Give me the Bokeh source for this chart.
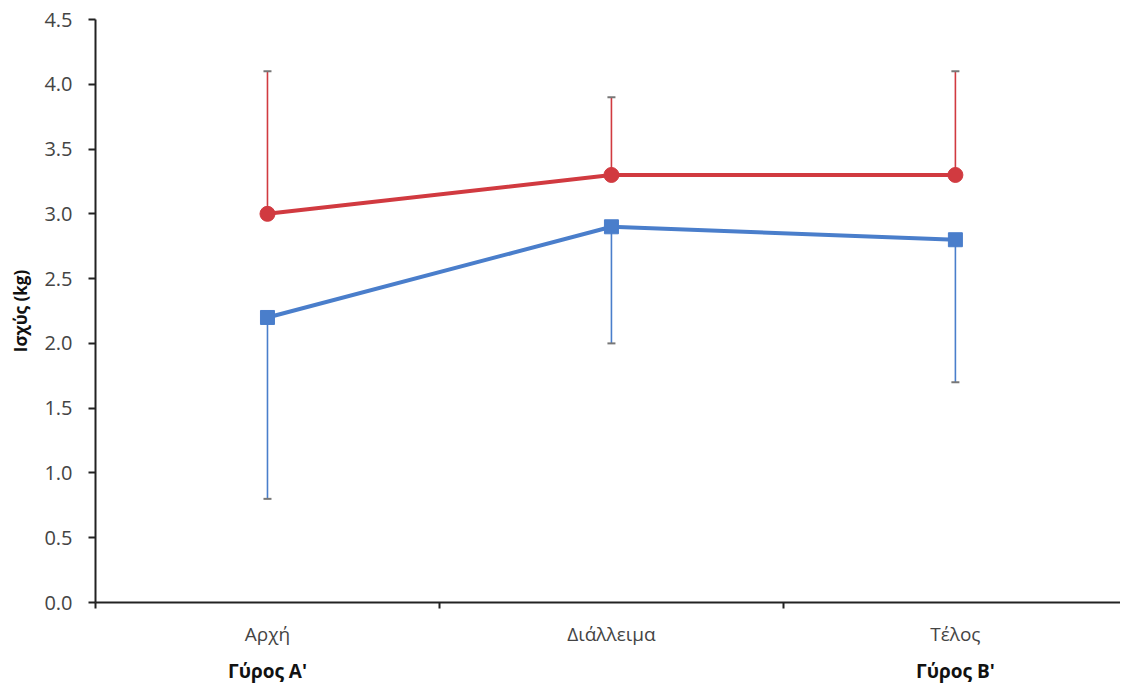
from bokeh.plotting import figure
from bokeh.models import (ColumnDataSource, Range1d, FixedTicker, LinearAxis,
                          Whisker, TeeHead)
from bokeh.embed import file_html
from bokeh.resources import INLINE

categories = ["Αρχή", "Διάλλειμα", "Τέλος"]
rounds = ["Γύρος Α'", "", "Γύρος Β'"]
red_mean = [3.0, 3.3, 3.3]
red_upper = [4.1, 3.9, 4.1]
blue_mean = [2.2, 2.9, 2.8]
blue_lower = [0.8, 2.0, 1.7]
y_ticks = [0, 0.5, 1.0, 1.5, 2.0, 2.5, 3.0, 3.5, 4.0, 4.5]

xs = [i + 0.5 for i in range(len(categories))]

FONT = "Open Sans"
RED = "#d13a40"
BLUE = "#4a7ecb"

p = figure(width=1120, height=686, output_backend="svg", toolbar_location=None,
           x_range=Range1d(0, 2.98), y_range=Range1d(0, 4.5),
           min_border_left=95, min_border_top=19, min_border_right=0,
           min_border_bottom=80, x_axis_location=None)
p.outline_line_color = None
p.xgrid.visible = False
p.ygrid.visible = False
p.background_fill_color = "white"
p.border_fill_color = "white"

red_src = ColumnDataSource(dict(x=xs, y=red_mean, up=red_upper))
blue_src = ColumnDataSource(dict(x=xs, y=blue_mean, lo=blue_lower))

p.add_layout(Whisker(source=red_src, base="x", lower="y", upper="up",
                     line_color=RED, line_width=1.6, lower_head=None,
                     upper_head=TeeHead(size=8, line_color="#777777", line_width=2)))
p.add_layout(Whisker(source=blue_src, base="x", lower="lo", upper="y",
                     line_color=BLUE, line_width=1.6, upper_head=None,
                     lower_head=TeeHead(size=8, line_color="#777777", line_width=2)))

p.line("x", "y", source=red_src, line_color=RED, line_width=4)
p.scatter("x", "y", source=red_src, marker="circle", size=15,
          fill_color=RED, line_color=RED)
p.line("x", "y", source=blue_src, line_color=BLUE, line_width=4)
p.scatter("x", "y", source=blue_src, marker="square", size=14,
          fill_color=BLUE, line_color=BLUE)

# y axis
ya = p.yaxis[0]
ya.ticker = FixedTicker(ticks=y_ticks)
ya.major_label_overrides = {t: f"{t:.1f}" for t in y_ticks}
ya.major_tick_out = 7
ya.major_tick_in = 0
ya.minor_tick_out = 0
ya.minor_tick_in = 0
ya.axis_line_color = "#222222"
ya.axis_line_width = 2
ya.major_tick_line_color = "#222222"
ya.major_tick_line_width = 2
ya.major_label_text_font = FONT
ya.major_label_text_font_size = "20px"
ya.major_label_text_color = "#444444"
ya.major_label_standoff = 16
ya.axis_label = "Ισχύς (kg)"
ya.axis_label_text_font = FONT
ya.axis_label_text_font_size = "17px"
ya.axis_label_text_font_style = "bold"
ya.axis_label_text_color = "#111111"
ya.axis_label_standoff = 9

# x axis: category labels + boundary ticks
xa = LinearAxis(ticker=FixedTicker(ticks=xs, minor_ticks=[0, 1, 2, 3]))
xa.major_label_overrides = {x: c for x, c in zip(xs, categories)}
xa.major_tick_out = 0
xa.major_tick_in = 0
xa.minor_tick_out = 6
xa.minor_tick_in = 0
xa.minor_tick_line_color = "#222222"
xa.minor_tick_line_width = 2
xa.axis_line_color = "#222222"
xa.axis_line_width = 2
xa.major_label_text_font = FONT
xa.major_label_text_font_size = "19px"
xa.major_label_text_color = "#444444"
xa.major_label_standoff = 12
p.add_layout(xa, "below")

xb = LinearAxis(ticker=FixedTicker(ticks=xs))
xb.major_label_overrides = {x: r for x, r in zip(xs, rounds)}
xb.axis_line_color = None
xb.major_tick_line_color = None
xb.minor_tick_line_color = None
xb.major_label_text_font = FONT
xb.major_label_text_font_size = "19px"
xb.major_label_text_font_style = "bold"
xb.major_label_text_color = "#111111"
xb.major_label_standoff = 2
p.add_layout(xb, "below")

open("out.html", "w").write(file_html(p, INLINE))
